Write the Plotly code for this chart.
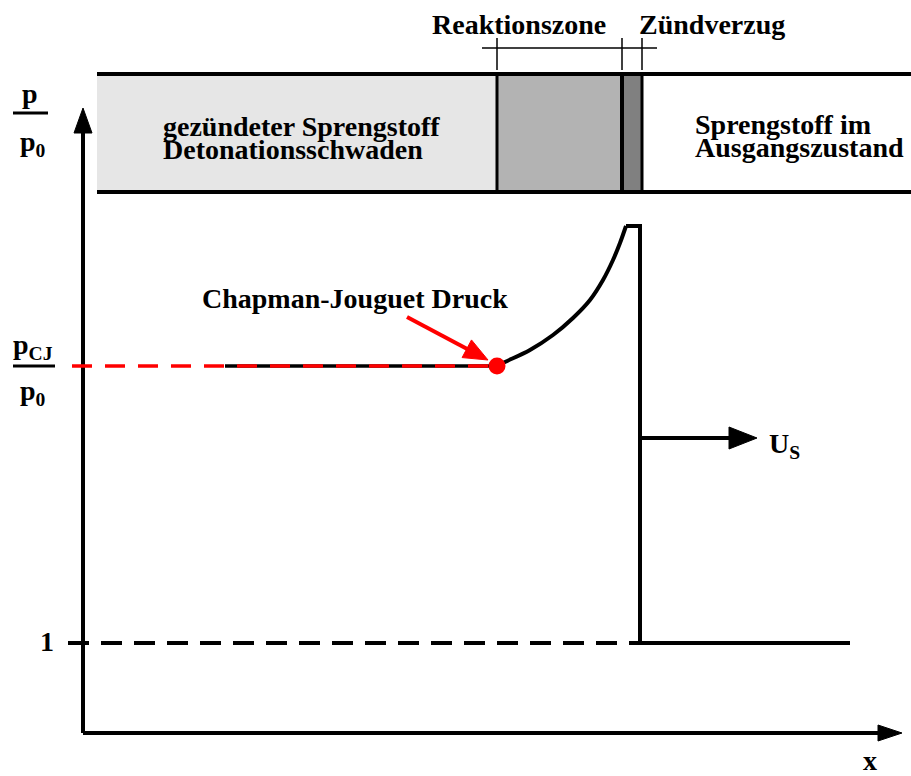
import plotly.graph_objects as go
import math

# ---------------- data (diagram units: x to the right, y downward like the picture) ----------------
band_top, band_bottom = 74, 192
zone_edges = [97, 497, 622, 642, 911]          # ignited | reaction zone | ignition delay | unreacted
zone_colors = ["#e6e6e6", "#b3b3b3", "#808080", "#ffffff"]
bracket_y, bracket_x = 48, [482, 657]
bracket_ticks = [497, 622, 642]

axis_origin = [83, 733]
y_axis_tip = 108
x_axis_tip = 902

level_cj = 366        # p_CJ / p0
level_one = 643       # p / p0 = 1
shock_x = 640
peak_level = 226
end_x = 850

# pressure profile in the reaction zone
curve_x = [497, 505, 530, 553, 573, 590, 603, 613, 620, 626]
curve_y = [366, 362, 350, 335, 318, 300, 280, 260, 243, 226]

cj_line_x = [72, 497]
cj_solid_x = [225, 497]
one_dash_x = [68, 640]

us_y, us_tip = 438, 757
red_arrow_tail, red_arrow_tip = (407, 317), (488, 360)

FONT = "Liberation Serif"
FS = 28

fig = go.Figure()

def line(xs, ys, color="black", width=4, dash="solid", shape="linear"):
    fig.add_trace(go.Scatter(x=xs, y=ys, mode="lines", hoverinfo="skip",
                             line=dict(color=color, width=width, dash=dash, shape=shape)))

def tri(tip, direction, length, half, color="black"):
    dx, dy = direction
    n = math.hypot(dx, dy); dx, dy = dx / n, dy / n
    bx, by = tip[0] - dx * length, tip[1] - dy * length
    px, py = -dy, dx
    xs = [tip[0], bx + px * half, bx - px * half, tip[0]]
    ys = [tip[1], by + py * half, by - py * half, tip[1]]
    fig.add_trace(go.Scatter(x=xs, y=ys, mode="lines", fill="toself", fillcolor=color,
                             line=dict(color=color, width=1), hoverinfo="skip"))

# band zones
for i, c in enumerate(zone_colors):
    x0, x1 = zone_edges[i], zone_edges[i + 1]
    fig.add_trace(go.Scatter(x=[x0, x1, x1, x0, x0], y=[band_top, band_top, band_bottom, band_bottom, band_top],
                             mode="lines", fill="toself", fillcolor=c, line=dict(width=0), hoverinfo="skip"))
line([zone_edges[0], zone_edges[-1]], [band_top, band_top], width=4)
line([zone_edges[0], zone_edges[-1]], [band_bottom, band_bottom], width=4)
for xe, w in zip(zone_edges[1:4], [3, 4, 3]):
    line([xe, xe], [band_top, band_bottom], width=w)

# bracket above
line(bracket_x, [bracket_y, bracket_y], width=1.5)
for xt in bracket_ticks:
    line([xt, xt], [bracket_y - 10, bracket_y + 22], width=1.5)

# axes
line([axis_origin[0], axis_origin[0]], [axis_origin[1], y_axis_tip + 20], width=4)
line([axis_origin[0], x_axis_tip - 20], [axis_origin[1], axis_origin[1]], width=4)
tri((axis_origin[0], y_axis_tip), (0, -1), 25, 9)
tri((x_axis_tip, axis_origin[1]), (1, 0), 24, 8)

# level 1 dashed + solid after shock
line(one_dash_x, [level_one, level_one], width=4, dash="21px,12px")
line([shock_x, end_x], [level_one, level_one], width=4)

# CJ level: black solid under red dashed
line(cj_solid_x, [level_cj, level_cj], width=3.5)
line(cj_line_x, [level_cj, level_cj], color="#ff0000", width=3.5, dash="20px,13px")

# pressure profile
line(curve_x, curve_y, width=4, shape="spline")
line([curve_x[-1], shock_x, shock_x, shock_x], [peak_level, peak_level, level_one, level_one], width=4)

# U_s arrow
line([shock_x, us_tip - 20], [us_y, us_y], width=4)
tri((us_tip, us_y), (1, 0), 28, 11)

# red arrow + CJ point
dxr, dyr = red_arrow_tip[0] - red_arrow_tail[0], red_arrow_tip[1] - red_arrow_tail[1]
nr = math.hypot(dxr, dyr)
line([red_arrow_tail[0], red_arrow_tip[0] - dxr / nr * 15], [red_arrow_tail[1], red_arrow_tip[1] - dyr / nr * 15],
     color="#ff0000", width=4)
tri(red_arrow_tip, (dxr, dyr), 24, 10, color="#ff0000")
fig.add_trace(go.Scatter(x=[curve_x[0]], y=[curve_y[0]], mode="markers", hoverinfo="skip",
                         marker=dict(color="#ff0000", size=17, line=dict(width=0))))

# fraction bars
line([13, 48], [113, 113], width=3)
line([13, 55], [level_cj, level_cj], width=3)

def txt(x, y, s, xanchor="center", size=FS):
    fig.add_annotation(x=x, y=y, text="<b>" + s + "</b>", showarrow=False, xanchor=xanchor, yanchor="middle",
                       font=dict(family=FONT, size=size, color="black"))

txt(519, 24, "Reaktionszone")
txt(712, 24, "Zündverzug")
txt(161, 126, "gezündeter Sprengstoff", xanchor="left")
txt(161, 149, "Detonationsschwaden", xanchor="left")
txt(693, 124, "Sprengstoff im", xanchor="left")
txt(693, 147, "Ausgangszustand", xanchor="left")
txt(355, 298, "Chapman-Jouguet Druck")
txt(30, 93, "p")
txt(33, 143, "p<sub>0</sub>")
txt(33, 346, "p<sub>CJ</sub>")
txt(33, 392, "p<sub>0</sub>")
txt(47, 641, "1")
txt(784, 445, "U<sub>S</sub>")
txt(870, 760, "x")

fig.update_layout(width=911, height=776, margin=dict(l=0, r=0, t=0, b=0),
                  paper_bgcolor="white", plot_bgcolor="white", showlegend=False)
fig.update_xaxes(range=[0, 911], visible=False, fixedrange=True)
fig.update_yaxes(range=[776, 0], visible=False, fixedrange=True)
fig.write_html("out.html", config={"displayModeBar": False},
               post_script="document.body.style.margin='0';document.body.style.overflow='hidden';")
